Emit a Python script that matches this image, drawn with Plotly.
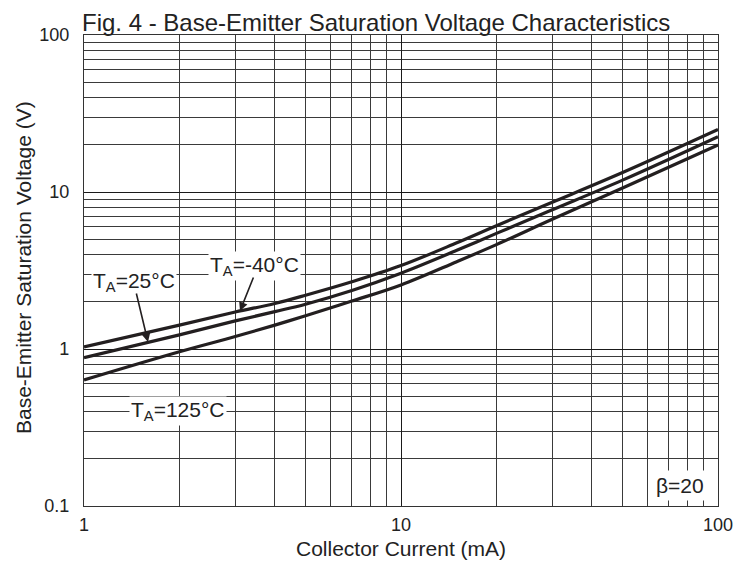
import plotly.graph_objects as go

# Collector current (mA)
current_ma = [1, 2, 3, 4, 5, 7, 10, 15, 20, 30, 50, 100]

# Base-emitter saturation voltage (V), beta = 20
vbe_m40 = [1.03, 1.42, 1.72, 1.95, 2.20, 2.68, 3.40, 4.75, 6.10, 8.6, 13.3, 25.0]
vbe_25 = [0.88, 1.23, 1.51, 1.73, 1.93, 2.36, 3.04, 4.25, 5.45, 7.7, 11.9, 22.5]
vbe_125 = [0.635, 0.96, 1.2, 1.42, 1.63, 2.02, 2.56, 3.6, 4.62, 6.7, 10.6, 19.9]

series_names = ["T<sub>A</sub>=-40°C", "T<sub>A</sub>=25°C", "T<sub>A</sub>=125°C"]
x_tickvals = [1, 10, 100]
x_ticktext = ["1", "10", "100"]
y_tickvals = [0.1, 1, 10, 100]
y_ticktext = ["0.1", "1", "10", "100"]

W, H = 748, 572
OFF = 8  # page body margin
L, R, T, B = 84 - OFF, 30 + OFF, 35 - OFF, 66 + OFF
PX0, PX1, PY0, PY1 = 84, 718, 35, 506  # plot area on screen

def px(xs):
    return (xs - PX0) / (PX1 - PX0)

def py(ys):
    return (PY1 - ys) / (PY1 - PY0)

FONT = "Liberation Sans, Arial, sans-serif"
INK = "#231f20"
TXT = "#222222"

fig = go.Figure()
for name, vals in zip(series_names, [vbe_m40, vbe_25, vbe_125]):
    fig.add_trace(go.Scatter(
        x=current_ma, y=vals, mode="lines", name=name,
        line=dict(color=INK, width=3.2, shape="spline", smoothing=1.0),
        showlegend=False, hoverinfo="skip",
    ))

grid_major = "#1a1a1a"
grid_minor = "#3a3a3a"

fig.update_xaxes(
    type="log", range=[0, 2],
    tickvals=x_tickvals, ticktext=x_ticktext,
    showgrid=True, gridcolor=grid_major, gridwidth=1,
    minor=dict(dtick="D1", showgrid=True, gridcolor=grid_minor, gridwidth=1, ticks=""),
    showline=True, mirror=True, linecolor="#333333", linewidth=1.2,
    ticks="", ticklabelstandoff=2,
    tickfont=dict(family=FONT, size=18, color=TXT),
    zeroline=False,
)
fig.update_yaxes(
    type="log", range=[-1, 2],
    tickvals=y_tickvals, ticktext=y_ticktext,
    showgrid=True, gridcolor=grid_major, gridwidth=1,
    minor=dict(dtick="D1", showgrid=True, gridcolor=grid_minor, gridwidth=1, ticks=""),
    showline=True, mirror=True, linecolor="#333333", linewidth=1.2,
    ticks="", ticklabelstandoff=10,
    tickfont=dict(family=FONT, size=18, color=TXT),
    zeroline=False,
)

lab_font = dict(family=FONT, size=21, color=TXT)
axis_font = dict(family=FONT, size=21, color=TXT)
annotations = [
    dict(text=series_names[1], x=px(134), y=py(282), xref="paper", yref="paper",
         xanchor="center", yanchor="middle",
         showarrow=False, bgcolor="white", font=lab_font, borderpad=1),
    dict(text=series_names[0], x=px(254), y=py(266), xref="paper", yref="paper",
         xanchor="center", yanchor="middle",
         showarrow=False, bgcolor="white", font=lab_font, borderpad=1),
    dict(text=series_names[2], x=px(178), y=py(411), xref="paper", yref="paper",
         xanchor="center", yanchor="middle",
         showarrow=False, bgcolor="white", font=lab_font, borderpad=1),
    dict(text="β=20", x=px(680), y=py(485), xref="paper", yref="paper",
         xanchor="center", yanchor="middle",
         showarrow=False, bgcolor="white", font=lab_font, borderpad=3),
    # arrows
    dict(text="", x=px(148), y=py(342), xref="paper", yref="paper",
         showarrow=True, ax=-12, ay=-50, arrowhead=2, arrowsize=1.1, arrowwidth=1.6,
         arrowcolor=INK, standoff=0),
    dict(text="", x=px(240), y=py(311), xref="paper", yref="paper",
         showarrow=True, ax=14, ay=-35, arrowhead=2, arrowsize=1.1, arrowwidth=1.6,
         arrowcolor=INK, standoff=0),
    # axis titles
    dict(text="Collector Current (mA)", x=px(401), y=py(548), xref="paper", yref="paper",
         xanchor="center", yanchor="middle", showarrow=False, font=axis_font),
    dict(text="Base-Emitter Saturation Voltage (V)", x=px(23), y=py(268), xref="paper", yref="paper",
         xanchor="center", yanchor="middle", textangle=-90, showarrow=False, font=axis_font),
]

fig.update_layout(
    width=W, height=H,
    margin=dict(l=L, r=R, t=T, b=B, autoexpand=False),
    paper_bgcolor="white", plot_bgcolor="white",
    font=dict(family=FONT, color=TXT),
    title=dict(text="Fig. 4 - Base-Emitter Saturation Voltage Characteristics",
               x=(82 - OFF) / W, xanchor="left", xref="container",
               y=1 - (23 - OFF) / H, yanchor="middle", yref="container",
               font=dict(family=FONT, size=24, color=TXT)),
    annotations=annotations,
)

fig.write_html("out.html")
